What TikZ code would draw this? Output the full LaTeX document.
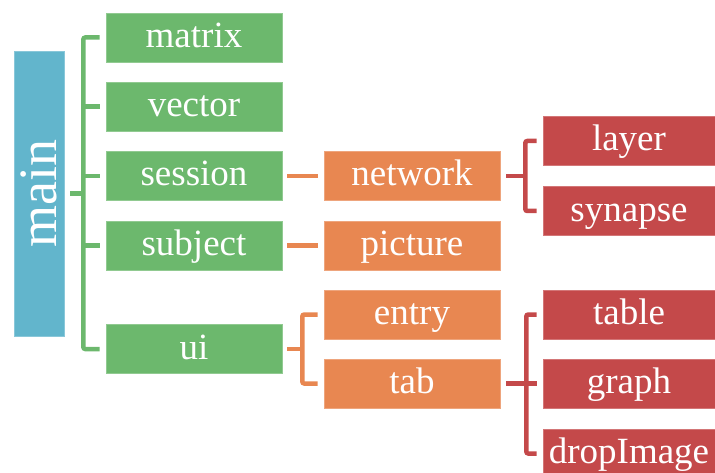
\documentclass[tikz,border=0pt]{standalone}
\usepackage{fontspec}
\setmainfont{LiberationSerif}[Extension=.ttf, UprightFont=*-Regular, BoldFont=*-Bold, ItalicFont=*-Italic, BoldItalicFont=*-BoldItalic]
\definecolor{cgreen}{HTML}{6CB86D}
\definecolor{cblue}{HTML}{62B5CC}
\definecolor{corange}{HTML}{E88751}
\definecolor{cred}{HTML}{C4494A}
\begin{document}
\begin{tikzpicture}[x=1pt,y=1pt,
  box/.style={rectangle, inner sep=0pt, minimum width=176pt, minimum height=49pt,
    text height=26pt, text depth=6pt,
    text=white, font=\fontsize{37}{40}\selectfont, line width=0.6pt},
  gbox/.style={box, fill=cgreen, draw=cgreen!75!white},
  obox/.style={box, fill=corange, draw=corange!75!white},
  rbox/.style={box, fill=cred, draw=cred!75!white, minimum width=172pt},
  link/.style={line width=4.5pt, rounded corners=2pt}
]
\clip (0,0) rectangle (715,472);
% root
\node[rotate=90, fill=cblue, draw=cblue!75!white, line width=0.6pt, minimum width=285pt, minimum height=50pt,
  inner sep=0pt, text=white, font=\fontsize{54}{60}\selectfont] (main) at (39,278.5) {main};
% level 1
\node[gbox] (matrix)  at (194,434.5) {matrix};
\node[gbox] (vector)  at (194,365.5) {vector};
\node[gbox] (session) at (194,296)   {session};
\node[gbox] (subject) at (194,226.5) {subject};
\node[gbox] (ui)      at (194,123)   {ui};
% level 2
\node[obox] (network) at (412,296)   {network};
\node[obox] (picture) at (412,226.5) {picture};
\node[obox] (entry)   at (412,157.5) {entry};
\node[obox] (tab)     at (412,88.5)  {tab};
% level 3
\node[rbox] (layer)     at (629,331)   {layer};
\node[rbox] (synapse)   at (629,261)   {synapse};
\node[rbox] (table)     at (629,157.5) {table};
\node[rbox] (graph)     at (629,88.5)  {graph};
\node[rbox] (dropImage) at (629,18.5)  {dropImage};
% green bracket
\coordinate (gs) at ([xshift=19pt]main.south);
\draw[link, cgreen] ([xshift=6pt]main.south) -- (gs);
\draw[link, cgreen] ([xshift=-6pt]matrix.west) -- (gs |- matrix.west) -- (gs |- ui.west) -- ([xshift=-6pt]ui.west);
\draw[link, cgreen] (gs |- vector.west) -- ([xshift=-6pt]vector.west);
\draw[link, cgreen] (gs |- session.west) -- ([xshift=-6pt]session.west);
\draw[link, cgreen] (gs |- subject.west) -- ([xshift=-6pt]subject.west);
% orange links
\draw[link, corange] ([xshift=5pt]session.east) -- ([xshift=-6pt]network.west);
\draw[link, corange] ([xshift=5pt]subject.east) -- ([xshift=-6pt]picture.west);
\coordinate (os) at ([xshift=20pt]ui.east);
\draw[link, corange] ([xshift=5pt]ui.east) -- (os);
\draw[link, corange] ([xshift=-6pt]entry.west) -- (os |- entry.west) -- (os |- tab.west) -- ([xshift=-6pt]tab.west);
% red brackets
\coordinate (rs) at ([xshift=25pt]network.east);
\draw[link, cred] ([xshift=6pt]network.east) -- (rs);
\draw[link, cred] ([xshift=-6pt]layer.west) -- (rs |- layer.west) -- (rs |- synapse.west) -- ([xshift=-6pt]synapse.west);
\coordinate (rt) at ([xshift=26pt]tab.east);
\draw[link, cred] ([xshift=6pt]tab.east) -- (rt);
\draw[link, cred] ([xshift=-6pt]table.west) -- (rt |- table.west) -- (rt |- dropImage.west) -- ([xshift=-6pt]dropImage.west);
\draw[link, cred] (rt |- graph.west) -- ([xshift=-6pt]graph.west);
\end{tikzpicture}
\end{document}
